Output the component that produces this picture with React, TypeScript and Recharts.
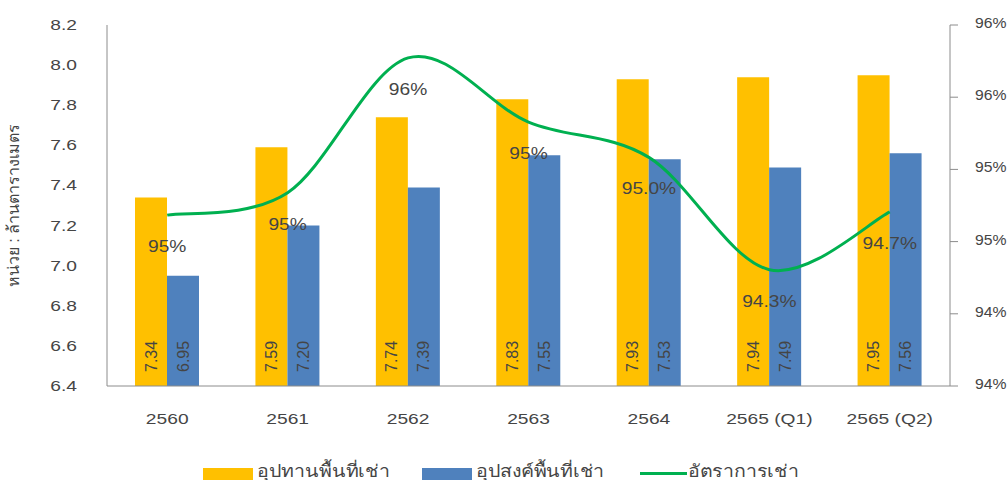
import {
  ComposedChart,
  Bar,
  Line,
  XAxis,
  YAxis,
  Legend,
  LabelList,
  Label,
} from "recharts";

const years = ["2560", "2561", "2562", "2563", "2564", "2565 (Q1)", "2565 (Q2)"];
const supply = [7.34, 7.59, 7.74, 7.83, 7.93, 7.94, 7.95];
const demand = [6.95, 7.2, 7.39, 7.55, 7.53, 7.49, 7.56];
const occupancy = [94.64, 94.78, 95.62, 95.22, 95.0, 94.3, 94.66];
const occupancyDigits = [0, 0, 0, 0, 1, 1, 1];
const leftTicks = [6.4, 6.6, 6.8, 7.0, 7.2, 7.4, 7.6, 7.8, 8.0, 8.2];
const rightTicks = [94, 94.4, 94.8, 95.2, 95.6, 96];

const data = years.map((year, i) => ({
  year,
  supply: supply[i],
  demand: demand[i],
  occupancy: occupancy[i],
}));

const FONT = "'Liberation Sans', Arial, sans-serif";
const TEXT = "#454545";
const AXIS = "#8c8c8c";

// smoothing close to excel's smoothed line (catmull-rom)
const smoothCurve = (context: any) => {
  let pts: number[][] = [];
  return {
    areaStart() {},
    areaEnd() {},
    lineStart() {
      pts = [];
    },
    point(x: number, y: number) {
      pts.push([+x, +y]);
    },
    lineEnd() {
      if (!pts.length) return;
      context.moveTo(pts[0][0], pts[0][1]);
      for (let i = 0; i < pts.length - 1; i++) {
        const p0 = pts[Math.max(i - 1, 0)];
        const p1 = pts[i];
        const p2 = pts[i + 1];
        const p3 = pts[Math.min(i + 2, pts.length - 1)];
        context.bezierCurveTo(
          p1[0] + (p2[0] - p0[0]) / 6,
          p1[1] + (p2[1] - p0[1]) / 6,
          p2[0] - (p3[0] - p1[0]) / 6,
          p2[1] - (p3[1] - p1[1]) / 6,
          p2[0],
          p2[1]
        );
      }
    },
  };
};

// the source picture is stretched sideways, so horizontal text is widened
const WideText = ({ x, y, anchor, sx, size, children }: any) => (
  <g transform={`translate(${x},${y})`}>
    <text
      transform={`scale(${sx},1)`}
      textAnchor={anchor}
      fontSize={size}
      fontFamily={FONT}
      fill={TEXT}
    >
      {children}
    </text>
  </g>
);

const LeftTick = ({ x, y, payload }: any) => (
  <WideText x={x} y={Number(y) + 5} anchor="end" sx={1.28} size={15}>
    {Number(payload.value).toFixed(1)}
  </WideText>
);

const RightTick = ({ x, y, payload }: any) => (
  <WideText x={x} y={Number(y) + 3} anchor="start" sx={1.05} size={15}>
    {`${Number(payload.value).toFixed(0)}%`}
  </WideText>
);

const BottomTick = ({ x, y, payload }: any) => (
  <WideText x={x} y={Number(y) + 32} anchor="middle" sx={1.28} size={15}>
    {payload.value}
  </WideText>
);

const BarValue = (props: any) => {
  const { x, y, width, height, value } = props;
  const cx = Number(x) + Number(width) / 2;
  const by = Number(y) + Number(height) - 14;
  return (
    <text
      x={cx}
      y={by}
      transform={`rotate(-90 ${cx} ${by})`}
      textAnchor="start"
      dominantBaseline="central"
      fontSize={16}
      fontFamily={FONT}
      fill={TEXT}
    >
      {Number(value).toFixed(2)}
    </text>
  );
};

const RateValue = (props: any) => {
  const { x, y, value, index } = props;
  return (
    <WideText x={x} y={Number(y) + 37} anchor="middle" sx={1.2} size={16}>
      {`${Number(value).toFixed(occupancyDigits[index])}%`}
    </WideText>
  );
};

const legendItems = [
  { label: "อุปทานพื้นที่เช่า", color: "#FFC000", kind: "rect", w: 219 },
  { label: "อุปสงค์พื้นที่เช่า", color: "#4F81BD", kind: "rect", w: 218 },
  { label: "อัตราการเช่า", color: "#00B050", kind: "line", w: 170 },
];

const LegendBox = () => (
  <div
    style={{
      height: 44,
      display: "flex",
      paddingLeft: 203,
      boxSizing: "border-box",
      fontFamily: FONT,
      color: TEXT,
    }}
  >
    {legendItems.map((it) => (
      <div key={it.label} style={{ width: it.w, height: 44, position: "relative" }}>
        {it.kind === "rect" ? (
          <div style={{ position: "absolute", left: 0, top: 32, width: 50, height: 14, background: it.color }} />
        ) : (
          <div style={{ position: "absolute", left: 0, top: 36, width: 47, height: 3, background: it.color }} />
        )}
        <span
          style={{
            position: "absolute",
            left: it.kind === "rect" ? 54 : 48,
            top: 26,
            fontSize: 17,
            lineHeight: "20px",
            whiteSpace: "nowrap",
            display: "inline-block",
            transform: "scaleX(1.15)",
            transformOrigin: "left center",
          }}
        >
          {it.label}
        </span>
      </div>
    ))}
  </div>
);

export default function App() {
  return (
    <div style={{ position: "absolute", left: 0, top: 0, width: 1008, height: 480, overflow: "hidden" }}>
      <ComposedChart
        width={1008}
        height={480}
        data={data}
        margin={{ top: 25, right: 0, left: 0, bottom: 0 }}
        barCategoryGap={28}
        barGap={0}
      >
        <XAxis
          dataKey="year"
          height={50}
          tickLine={false}
          axisLine={{ stroke: AXIS }}
          tickMargin={0}
          tick={<BottomTick />}
          interval={0}
        />
        <YAxis
          yAxisId="left"
          width={107}
          domain={[6.4, 8.2]}
          ticks={leftTicks}
          allowDataOverflow
          tickLine={false}
          axisLine={{ stroke: AXIS }}
          tickMargin={24}
          tick={<LeftTick />}
        >
          <Label
            value="หน่วย : ล้านตารางเมตร"
            angle={-90}
            position="insideLeft"
            offset={13}
            style={{ textAnchor: "middle", fill: TEXT, fontSize: 16, fontFamily: FONT }}
          />
        </YAxis>
        <YAxis
          yAxisId="pct"
          orientation="right"
          width={58}
          domain={[94, 96]}
          ticks={rightTicks}
          allowDataOverflow
          tickSize={8}
          tickLine={{ stroke: AXIS }}
          axisLine={{ stroke: AXIS }}
          tickMargin={17}
          tick={<RightTick />}
        />
        <YAxis yAxisId="rate" orientation="right" hide domain={[93.575, 95.825]} allowDataOverflow />
        <Legend verticalAlign="bottom" content={<LegendBox />} />
        <Bar yAxisId="left" dataKey="supply" name="อุปทานพื้นที่เช่า" fill="#FFC000" barSize={32} isAnimationActive={false}>
          <LabelList dataKey="supply" content={<BarValue />} />
        </Bar>
        <Bar yAxisId="left" dataKey="demand" name="อุปสงค์พื้นที่เช่า" fill="#4F81BD" barSize={32} isAnimationActive={false}>
          <LabelList dataKey="demand" content={<BarValue />} />
        </Bar>
        <Line
          yAxisId="rate"
          dataKey="occupancy"
          name="อัตราการเช่า"
          type={smoothCurve as any}
          stroke="#00B050"
          strokeWidth={3}
          dot={false}
          activeDot={false}
          isAnimationActive={false}
        >
          <LabelList dataKey="occupancy" content={<RateValue />} />
        </Line>
      </ComposedChart>
    </div>
  );
}
